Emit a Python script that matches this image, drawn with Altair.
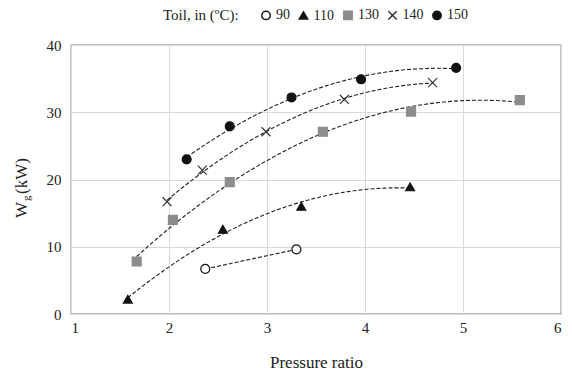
import altair as alt
import pandas as pd

# Data
t90_x = [2.37, 3.30]
t90_y = [6.7, 9.6]
t110_x = [1.58, 2.55, 3.35, 4.46]
t110_y = [2.2, 12.6, 16.0, 18.9]
t130_x = [1.67, 2.04, 2.62, 3.57, 4.47, 5.58]
t130_y = [7.8, 14.0, 19.6, 27.1, 30.1, 31.8]
t140_x = [1.98, 2.34, 2.99, 3.79, 4.69]
t140_y = [16.7, 21.4, 27.1, 31.9, 34.4]
t150_x = [2.18, 2.62, 3.25, 3.96, 4.93]
t150_y = [23.0, 27.9, 32.2, 34.9, 36.6]

series = ["90", "110", "130", "140", "150"]
xs = [t90_x, t110_x, t130_x, t140_x, t150_x]
ys = [t90_y, t110_y, t130_y, t140_y, t150_y]

rows = []
for s, xx, yy in zip(series, xs, ys):
    for a, b in zip(xx, yy):
        rows.append({"Toil": s, "P": a, "W": b})
df = pd.DataFrame(rows)

FONT = "Liberation Serif"
X_PATH = "M-1,-1L1,1M-1,1L1,-1"

xscale = alt.Scale(domain=[1, 6], nice=False)
yscale = alt.Scale(domain=[0, 40], nice=False)

xaxis = alt.Axis(values=[1, 2, 3, 4, 5, 6], format="d", title="Pressure ratio", labelFontSize=15,
                 titleFontSize=17, titleFontWeight="normal", labelPadding=6, titlePadding=19,
                 domain=False, ticks=False, gridColor="#d9d9d9", labelColor="#222",
                 titleColor="#222", labelFont=FONT, titleFont=FONT)
yaxis = alt.Axis(values=list(range(0, 45, 5)), format="d", title=None, labelFontSize=15,
                 labelPadding=10, domain=False, ticks=False, gridColor="#d9d9d9",
                 labelColor="#222", labelFont=FONT)

base = alt.Chart(df)

trend_poly = base.transform_filter(alt.datum.Toil != "90").transform_regression(
    "P", "W", method="poly", order=2, groupby=["Toil"]
).mark_line(color="#222", strokeDash=[4, 2], strokeWidth=1.1).encode(
    x=alt.X("P:Q", scale=xscale, axis=xaxis),
    y=alt.Y("W:Q", scale=yscale, axis=yaxis),
    detail="Toil:N",
)

trend_lin = base.transform_filter(alt.datum.Toil == "90").transform_regression(
    "P", "W", method="linear"
).mark_line(color="#222", strokeDash=[4, 2], strokeWidth=1.1).encode(
    x=alt.X("P:Q", scale=xscale),
    y=alt.Y("W:Q", scale=yscale),
)

legend = alt.Legend(
    title="Toil, in (ºC):", orient="none", legendX=92, legendY=-37,
    direction="horizontal", titleOrient="left", titleFontSize=15,
    titleFontWeight="normal", titleFont=FONT, labelFont=FONT, labelFontSize=14,
    titleColor="#222", labelColor="#222", columnPadding=5.5, symbolSize=70,
    titlePadding=20, labelOffset=3,
)

pts = base.mark_point(filled=False, size=80, opacity=1).encode(
    x=alt.X("P:Q", scale=xscale),
    y=alt.Y("W:Q", scale=yscale),
    shape=alt.Shape("Toil:N", sort=series, legend=legend,
                    scale=alt.Scale(domain=series,
                                    range=["circle", "triangle-up", "square", X_PATH, "circle"])),
    fill=alt.Fill("Toil:N", sort=series, legend=legend,
                  scale=alt.Scale(domain=series,
                                  range=["white", "#111", "#8c8c8c", "#333", "#111"])),
    stroke=alt.Stroke("Toil:N", sort=series, legend=legend,
                      scale=alt.Scale(domain=series,
                                      range=["#111", "#111", "#8c8c8c", "#333", "#111"])),
    strokeWidth=alt.value(1.2),
)

ytitle_w = alt.Chart(pd.DataFrame({"t": ["W"]})).mark_text(
    font=FONT, fontSize=17, angle=270, align="center", baseline="middle", color="#222"
).encode(x=alt.value(-49), y=alt.value(165), text="t:N")
ytitle_g = alt.Chart(pd.DataFrame({"t": ["g"]})).mark_text(
    font=FONT, fontSize=11, angle=270, align="left", baseline="middle", color="#222"
).encode(x=alt.value(-44), y=alt.value(156), text="t:N")
ytitle_kw = alt.Chart(pd.DataFrame({"t": ["(kW)"]})).mark_text(
    font=FONT, fontSize=17, angle=270, align="left", baseline="middle", color="#222"
).encode(x=alt.value(-49), y=alt.value(149), text="t:N")

chart = alt.layer(trend_poly, trend_lin, pts, ytitle_w, ytitle_g, ytitle_kw).properties(
    width=490, height=269,
    autosize=alt.AutoSizeParams(type="none"),
    padding={"left": 63, "top": 37, "right": 3, "bottom": 58},
).configure(background="white", font=FONT).configure_view(
    stroke="#808080", strokeWidth=1.3
)

chart.save("out.html", embed_options={"renderer": "svg", "actions": False})
